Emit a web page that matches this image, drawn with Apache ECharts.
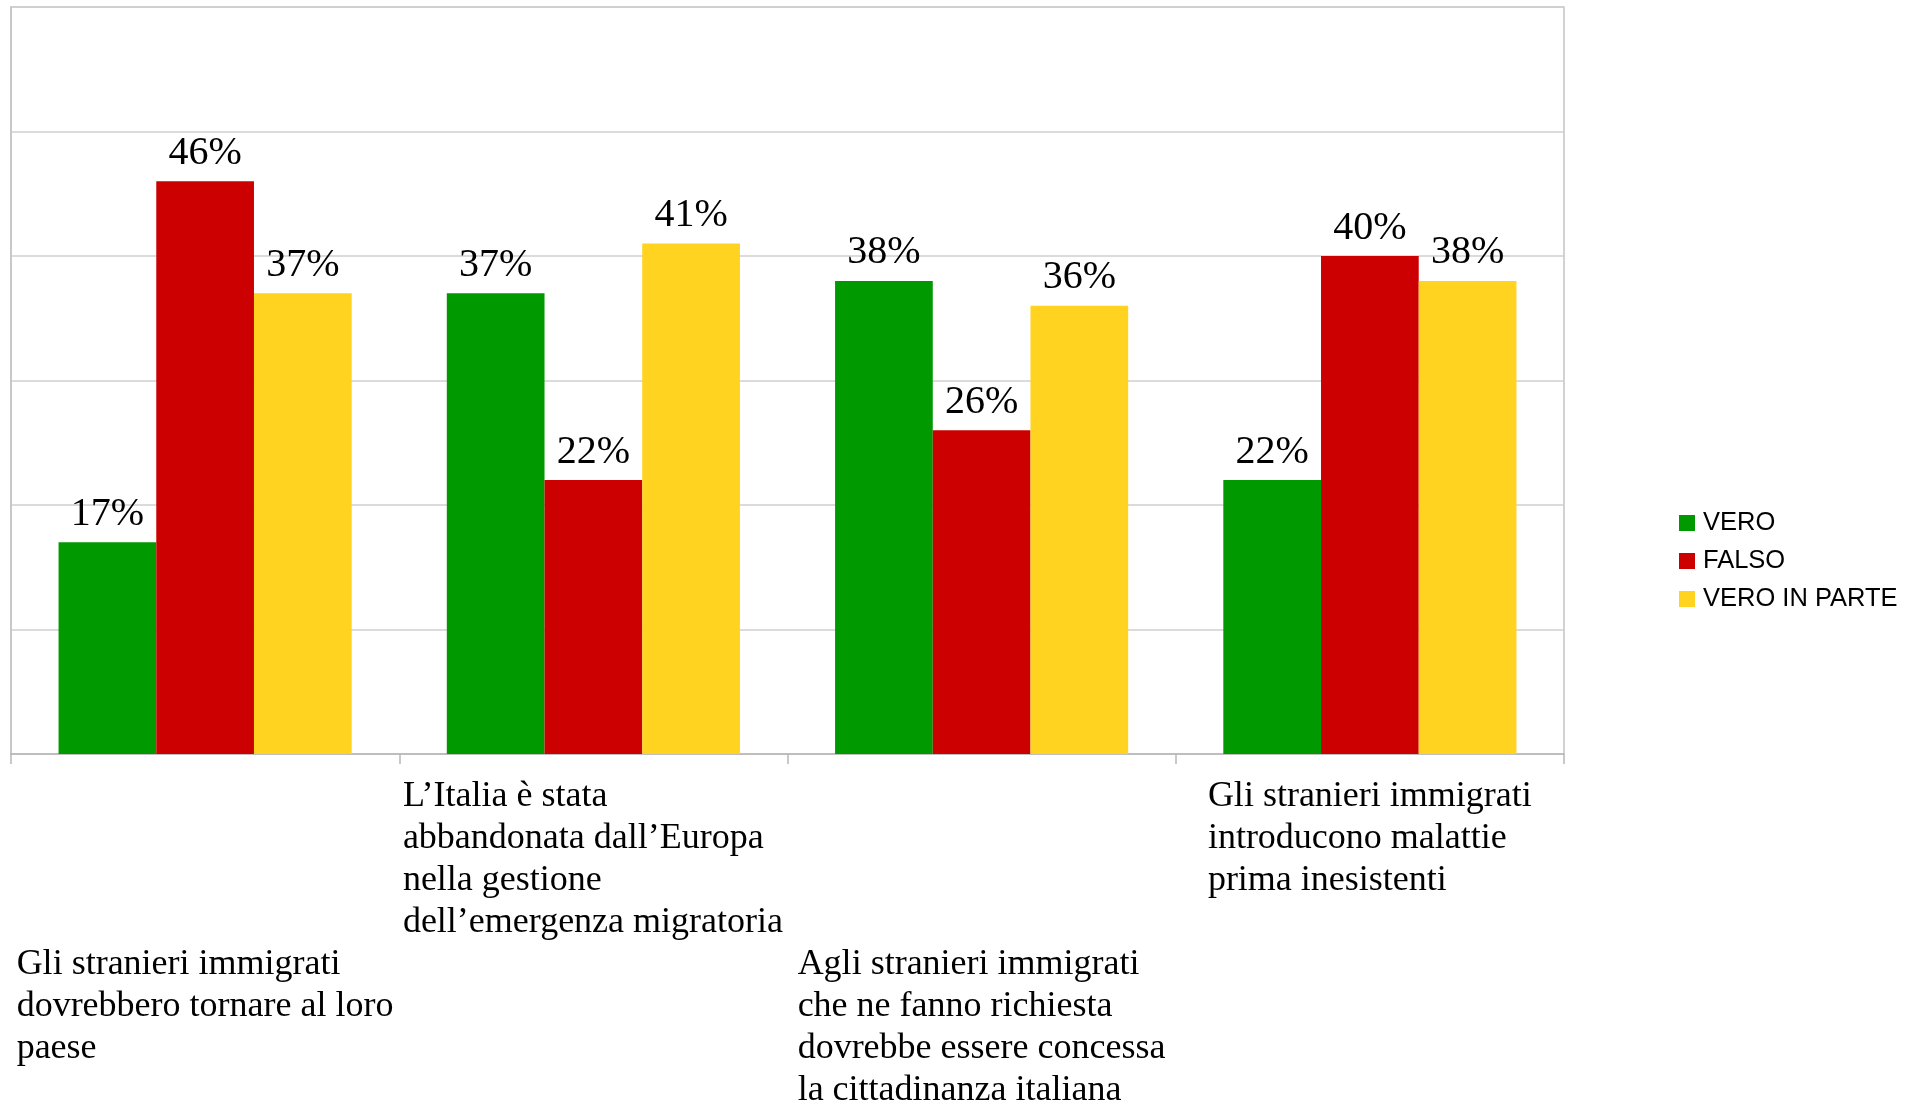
<!DOCTYPE html>
<html>
<head>
<meta charset="UTF-8">
<title></title>
<script src="https://cdn.jsdelivr.net/npm/echarts@6/dist/echarts.min.js"></script>
<style>
* { margin: 0; padding: 0; }
#app { width: 1914px; height: 1102px; background: #fff; }
</style>
</head>
<body>
<div id="app"></div>
<script>
var categories = [
  'Gli stranieri immigrati\ndovrebbero tornare al loro\npaese',
  'L\u2019Italia è stata\nabbandonata dall\u2019Europa\nnella gestione\ndell\u2019emergenza migratoria',
  'Agli stranieri immigrati\nche ne fanno richiesta\ndovrebbe essere concessa\nla cittadinanza italiana',
  'Gli stranieri immigrati\nintroducono malattie\nprima inesistenti'
];
var seriesNames = ['VERO', 'FALSO', 'VERO IN PARTE'];
var vero = [17, 37, 38, 22];
var falso = [46, 22, 26, 40];
var veroInParte = [37, 41, 36, 38];
var colors = ['#009900', '#cc0000', '#ffd320'];

// measure each label block so lines stay left-aligned inside a centred box
var ctx = document.createElement('canvas').getContext('2d');
ctx.font = '36px "Liberation Serif"';
var rich = {};
categories.forEach(function (c, i) {
  var w = 0;
  c.split('\n').forEach(function (l) { w = Math.max(w, ctx.measureText(l).width); });
  rich['w' + i] = {
    width: Math.ceil(w), align: 'left', fontFamily: 'Liberation Serif',
    fontSize: 36, lineHeight: 42, color: '#000'
  };
});

var myChart = echarts.init(document.getElementById('app'));

function barSeries(name, data, color) {
  return {
    name: name, type: 'bar', data: data, barGap: 0, barCategoryGap: '24.5%',
    itemStyle: { color: color },
    label: {
      show: true, position: 'top', distance: 8, formatter: '{c}%',
      fontFamily: 'Liberation Serif', fontSize: 40, color: '#000'
    }
  };
}

myChart.setOption({
  animation: false,
  grid: {
    left: 11, right: 350, top: 7, bottom: 348, outerBoundsMode: 'none',
    show: true, borderColor: '#c4c4c4', borderWidth: 1.5
  },
  legend: {
    orient: 'vertical', left: 1674, top: 505, icon: 'rect', itemWidth: 16, itemHeight: 16, itemGap: 12,
    textStyle: { fontFamily: 'Liberation Sans', fontSize: 25.5, color: '#000', padding: [0, 0, 0, 3] },
    data: seriesNames
  },
  xAxis: {
    type: 'category', data: categories,
    axisLine: { lineStyle: { color: '#b8b8b8', width: 1.5 } },
    axisTick: { show: true, length: 10, lineStyle: { color: '#b8b8b8', width: 1.5 } },
    axisLabel: {
      interval: 0, margin: 22, align: 'center', hideOverlap: false,
      formatter: function (value, index) {
        var lines = value.split('\n');
        var out = [];
        if (index % 2 === 0) {
          for (var k = 0; k < 4; k++) out.push('{w' + index + '| }');
        }
        lines.forEach(function (l) { out.push('{w' + index + '|' + l + '}'); });
        return out.join('\n');
      },
      rich: rich
    }
  },
  yAxis: {
    type: 'value', min: 0, max: 60, interval: 10,
    axisLabel: { show: false },
    axisLine: { show: true, lineStyle: { color: '#c4c4c4', width: 1.5 } },
    axisTick: { show: false },
    splitLine: { lineStyle: { color: '#cfcfcf', width: 1.5 } }
  },
  series: [
    barSeries(seriesNames[0], vero, colors[0]),
    barSeries(seriesNames[1], falso, colors[1]),
    barSeries(seriesNames[2], veroInParte, colors[2])
  ]
});
</script>
</body>
</html>
